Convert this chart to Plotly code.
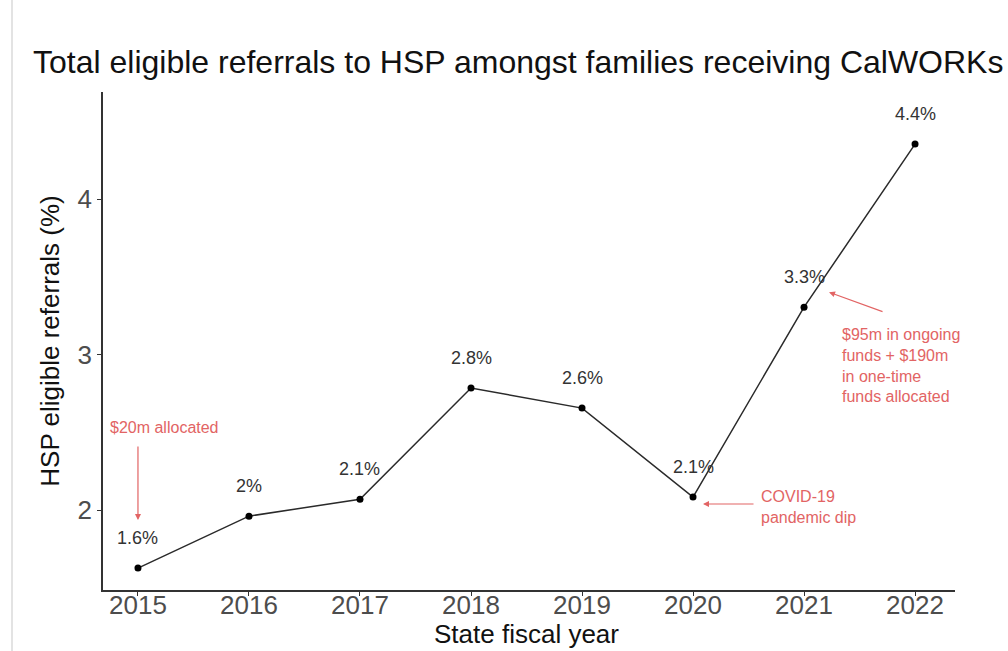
import plotly.graph_objects as go

years = [2015, 2016, 2017, 2018, 2019, 2020, 2021, 2022]
referrals_pct = [1.627, 1.961, 2.07, 2.785, 2.656, 2.084, 3.305, 4.354]
point_labels = ["1.6%", "2%", "2.1%", "2.8%", "2.6%", "2.1%", "3.3%", "4.4%"]
y_ticks = [2, 3, 4]

fig = go.Figure()
fig.add_trace(go.Scatter(
    x=years, y=referrals_pct, mode="lines+markers",
    line=dict(color="#2a2a2a", width=1.5),
    marker=dict(color="#000000", size=7),
    hoverinfo="skip", showlegend=False,
))

annotations = []
for x, y, t in zip(years, referrals_pct, point_labels):
    annotations.append(dict(x=x, y=y, text=t, showarrow=False, yshift=30,
                            font=dict(size=18, color="#333333", family="Liberation Sans")))

red = "#e26464"
rfont = dict(size=16, color=red, family="Liberation Sans")
# $20m allocated
annotations.append(dict(x=years[0], y=referrals_pct[0], text="", showarrow=True,
                        arrowhead=2, arrowsize=1, arrowwidth=1.2, arrowcolor=red,
                        ax=0, ay=-75, yshift=48))
annotations.append(dict(x=years[0], y=referrals_pct[0], text="$20m allocated", showarrow=False,
                        xshift=27, yshift=141, font=rfont))
# COVID
annotations.append(dict(x=years[5], y=referrals_pct[5], text="", showarrow=True,
                        arrowhead=2, arrowsize=1, arrowwidth=1.2, arrowcolor=red,
                        ax=52, ay=0, xshift=10, yshift=-7))
annotations.append(dict(x=years[5], y=referrals_pct[5], text="COVID-19<br>pandemic dip",
                        showarrow=False, xanchor="left", align="left", xshift=66, yshift=-10,
                        font=rfont))
# $95m
annotations.append(dict(x=years[6], y=referrals_pct[6], text="", showarrow=True,
                        arrowhead=2, arrowsize=1, arrowwidth=1.2, arrowcolor=red,
                        ax=55, ay=20, xshift=25, yshift=15))
annotations.append(dict(x=years[6], y=referrals_pct[6], text="$95m in ongoing<br>funds + $190m<br>in one-time<br>funds allocated",
                        showarrow=False, xanchor="left", align="left", xshift=36, yshift=-58,
                        font=rfont))
# x-axis title
annotations.append(dict(xref="paper", yref="paper", x=(526 - 103) / 852, y=-(634 - 590) / 498,
                        text="State fiscal year", showarrow=False, xanchor="center", yanchor="middle",
                        font=dict(size=26, color="#111111", family="Liberation Sans")))

fig.update_layout(
    width=1008, height=651,
    margin=dict(l=103, r=53, t=92, b=61),
    paper_bgcolor="white", plot_bgcolor="white",
    font=dict(family="Liberation Sans", color="#000000"),
    title=dict(text="Total eligible referrals to HSP amongst families receiving CalWORKs",
               x=33/1008, xanchor="left", y=1-62/651, yanchor="middle",
               font=dict(size=32, color="#111111", family="Liberation Sans")),
    xaxis=dict(range=[2014.685, 2022.36], tickmode="array", tickvals=years,
               ticktext=[str(y) for y in years], automargin=False,
               showgrid=False, zeroline=False, showline=True, linecolor="#333333", linewidth=1.5,
               ticks="outside", ticklen=4, tickcolor="#333333", ticklabelstandoff=-13,
               tickfont=dict(size=26, color="#4d4d4d")),
    yaxis=dict(range=[1.486, 4.689], tickmode="array", tickvals=y_ticks, automargin=False,
               showgrid=False, zeroline=False, showline=True, linecolor="#333333", linewidth=1.5,
               ticks="outside", ticklen=4, tickcolor="#333333",
               tickfont=dict(size=26, color="#4d4d4d"),
               title=dict(text="HSP eligible referrals (%)", font=dict(size=26, color="#111111"), standoff=10)),
    annotations=annotations,
    shapes=[dict(type="line", xref="paper", yref="paper",
                 x0=-91/852, x1=-91/852, y0=-61/498, y1=1+92/498,
                 line=dict(color="#e3e3e3", width=2))],
)

fig.write_html("out.html")
